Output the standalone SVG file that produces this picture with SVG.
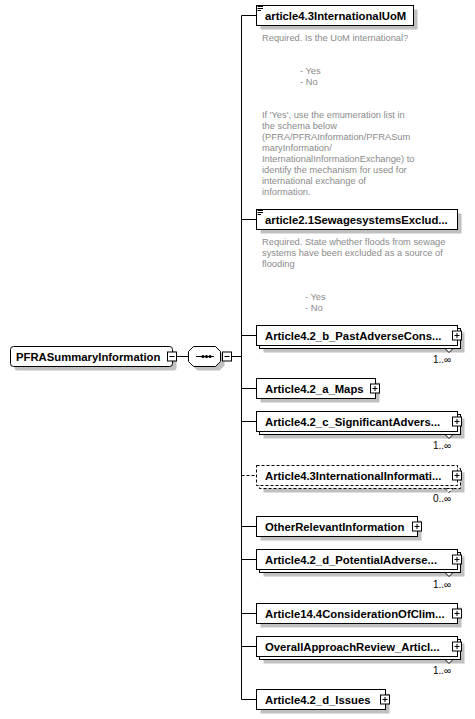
<svg xmlns="http://www.w3.org/2000/svg" width="475" height="719" viewBox="0 0 475 719">
<defs>
<style>
.box{fill:#fff;stroke:#000;stroke-width:1}
.dash{stroke-dasharray:3,2}
.shadow{fill:#c0c0c0;stroke:none}
.name{font-family:"Liberation Sans",Arial,sans-serif;font-weight:bold;font-size:11.3px;fill:#000}
.note{font-family:"Liberation Sans",Arial,sans-serif;font-size:9.3px;fill:#8a8a8a}
.occ{font-family:"Liberation Sans",Arial,sans-serif;font-size:10px;fill:#000}
.line{stroke:#000;stroke-width:1;fill:none}
.btn{fill:#fff;stroke:#000;stroke-width:1}
</style>
</defs>
<rect width="475" height="719" fill="#fff"/>

<g id="connectors">
<line class="line" x1="176.5" y1="356.5" x2="188.5" y2="356.5"/>
<line class="line" x1="220.5" y1="356.5" x2="241.5" y2="356.5"/>
<line class="line" x1="241.5" y1="15.5" x2="241.5" y2="699.5"/>
<line class="line" x1="241.5" y1="15.5" x2="256.5" y2="15.5"/>
<line class="line" x1="241.5" y1="219.5" x2="256.5" y2="219.5"/>
<line class="line" x1="241.5" y1="335.5" x2="256.5" y2="335.5"/>
<line class="line" x1="241.5" y1="388.5" x2="256.5" y2="388.5"/>
<line class="line" x1="241.5" y1="421.5" x2="256.5" y2="421.5"/>
<line class="line dash" x1="241.5" y1="475.5" x2="256.5" y2="475.5"/>
<line class="line" x1="241.5" y1="526.5" x2="256.5" y2="526.5"/>
<line class="line" x1="241.5" y1="559.5" x2="256.5" y2="559.5"/>
<line class="line" x1="241.5" y1="613.5" x2="256.5" y2="613.5"/>
<line class="line" x1="241.5" y1="646.5" x2="256.5" y2="646.5"/>
<line class="line" x1="241.5" y1="699.5" x2="256.5" y2="699.5"/>
</g>

<g id="PFRASummaryInformation">
<rect class="shadow" x="14.5" y="350.5" width="162" height="20" rx="3"/>
<rect class="box" x="10.5" y="346.5" width="162" height="20" rx="3"/>
<text class="name" x="16" y="361">PFRASummaryInformation</text>
<rect class="btn" x="167.5" y="352" width="9" height="9"/>
<line class="line" x1="169.5" y1="356.5" x2="174.5" y2="356.5"/>
</g>

<g id="sequence">
<polygon class="shadow" points="197.5,350.5 219.5,350.5 224.5,355.5 224.5,365.5 219.5,370.5 197.5,370.5 192.5,365.5 192.5,355.5"/>
<polygon class="box" points="193.5,346.5 215.5,346.5 220.5,351.5 220.5,361.5 215.5,366.5 193.5,366.5 188.5,361.5 188.5,351.5"/>
<line class="line" x1="196" y1="356.5" x2="214" y2="356.5"/>
<circle cx="203" cy="356.5" r="1.6" fill="#000"/>
<circle cx="206.5" cy="356.5" r="1.6" fill="#000"/>
<circle cx="210" cy="356.5" r="1.6" fill="#000"/>
<rect class="btn" x="222.5" y="352" width="9" height="9"/>
<line class="line" x1="224.5" y1="356.5" x2="229.5" y2="356.5"/>
</g>

<g id="article4.3InternationalUoM">
<rect class="shadow" x="260.5" y="9.5" width="157" height="20"/>
<rect class="box" x="256.5" y="5.5" width="157" height="20"/>
<line class="line" x1="257.5" y1="6.5" x2="263" y2="6.5"/>
<line class="line" x1="257.5" y1="8.5" x2="263" y2="8.5"/>
<line class="line" x1="257.5" y1="10.5" x2="261" y2="10.5"/>
<text class="name" x="265" y="20">article4.3InternationalUoM</text>
<text class="note" x="262" y="41">Required. Is the UoM international?</text>
<text class="note" x="300" y="74">- Yes</text>
<text class="note" x="300" y="85">- No</text>
<text class="note" x="262" y="118">If 'Yes', use the emumeration list in</text>
<text class="note" x="262" y="129">the schema below</text>
<text class="note" x="262" y="140">(PFRA/PFRAInformation/PFRASum</text>
<text class="note" x="262" y="151">maryInformation/</text>
<text class="note" x="262" y="162">InternationalInformationExchange) to</text>
<text class="note" x="262" y="173">identify the mechanism for used for</text>
<text class="note" x="262" y="184">international exchange of</text>
<text class="note" x="262" y="195">information.</text>
</g>

<g id="article2.1SewagesystemsExcluded">
<rect class="shadow" x="260.5" y="213.5" width="201" height="20"/>
<rect class="box" x="256.5" y="209.5" width="201" height="20"/>
<line class="line" x1="257.5" y1="210.5" x2="263" y2="210.5"/>
<line class="line" x1="257.5" y1="212.5" x2="263" y2="212.5"/>
<line class="line" x1="257.5" y1="214.5" x2="261" y2="214.5"/>
<text class="name" x="265" y="224">article2.1SewagesystemsExclud...</text>
<text class="note" x="262" y="245">Required. State whether floods from sewage</text>
<text class="note" x="262" y="256">systems have been excluded as a source of</text>
<text class="note" x="262" y="267">flooding</text>
<text class="note" x="305" y="300">- Yes</text>
<text class="note" x="305" y="311">- No</text>
</g>

<g id="Article4.2_b_PastAdverseConsequences">
<rect class="shadow" x="263.5" y="332.5" width="201" height="20"/>
<rect class="box" x="259.5" y="328.5" width="201" height="20"/>
<rect class="box" x="256.5" y="325.5" width="201" height="20"/>
<text class="name" x="265" y="340">Article4.2_b_PastAdverseCons...</text>
<rect class="btn" x="452.5" y="331" width="9" height="9"/>
<path class="line" d="M454.5,335.5h5M457,333v5"/>
<polygon class="box" points="445,348.5 449,352.5 453,348.5"/>
<text class="occ" x="433" y="363">1..∞</text>
</g>

<g id="Article4.2_a_Maps">
<rect class="shadow" x="260.5" y="382.5" width="119" height="20"/>
<rect class="box" x="256.5" y="378.5" width="119" height="20"/>
<text class="name" x="265" y="393">Article4.2_a_Maps</text>
<rect class="btn" x="370.5" y="384" width="9" height="9"/>
<path class="line" d="M372.5,388.5h5M375,386v5"/>
</g>

<g id="Article4.2_c_SignificantAdverseConsequences">
<rect class="shadow" x="263.5" y="418.5" width="201" height="20"/>
<rect class="box" x="259.5" y="414.5" width="201" height="20"/>
<rect class="box" x="256.5" y="411.5" width="201" height="20"/>
<text class="name" x="265" y="426">Article4.2_c_SignificantAdvers...</text>
<rect class="btn" x="452.5" y="417" width="9" height="9"/>
<path class="line" d="M454.5,421.5h5M457,419v5"/>
<polygon class="box" points="445,434.5 449,438.5 453,434.5"/>
<text class="occ" x="433" y="449">1..∞</text>
</g>

<g id="Article4.3InternationalInformationExchange">
<rect class="shadow" x="263.5" y="472.5" width="201" height="20"/>
<rect class="box dash" x="259.5" y="468.5" width="201" height="20"/>
<rect class="box dash" x="256.5" y="465.5" width="201" height="20"/>
<text class="name" x="265" y="480">Article4.3InternationalInformati...</text>
<rect class="btn" x="452.5" y="471" width="9" height="9"/>
<path class="line" d="M454.5,475.5h5M457,473v5"/>
<polygon class="box dash" points="445,488.5 449,492.5 453,488.5"/>
<text class="occ" x="433" y="502">0..∞</text>
</g>

<g id="OtherRelevantInformation">
<rect class="shadow" x="260.5" y="520.5" width="161" height="20"/>
<rect class="box" x="256.5" y="516.5" width="161" height="20"/>
<text class="name" x="265" y="531">OtherRelevantInformation</text>
<rect class="btn" x="412.5" y="522" width="9" height="9"/>
<path class="line" d="M414.5,526.5h5M417,524v5"/>
</g>

<g id="Article4.2_d_PotentialAdverseConsequences">
<rect class="shadow" x="263.5" y="556.5" width="201" height="20"/>
<rect class="box" x="259.5" y="552.5" width="201" height="20"/>
<rect class="box" x="256.5" y="549.5" width="201" height="20"/>
<text class="name" x="265" y="564">Article4.2_d_PotentialAdverse...</text>
<rect class="btn" x="452.5" y="555" width="9" height="9"/>
<path class="line" d="M454.5,559.5h5M457,557v5"/>
<polygon class="box" points="445,572.5 449,576.5 453,572.5"/>
<text class="occ" x="433" y="588">1..∞</text>
</g>

<g id="Article14.4ConsiderationOfClimateChange">
<rect class="shadow" x="260.5" y="607.5" width="201" height="20"/>
<rect class="box" x="256.5" y="603.5" width="201" height="20"/>
<text class="name" x="265" y="618">Article14.4ConsiderationOfClim...</text>
<rect class="btn" x="452.5" y="609" width="9" height="9"/>
<path class="line" d="M454.5,613.5h5M457,611v5"/>
</g>

<g id="OverallApproachReview_Article14">
<rect class="shadow" x="263.5" y="643.5" width="201" height="20"/>
<rect class="box" x="259.5" y="639.5" width="201" height="20"/>
<rect class="box" x="256.5" y="636.5" width="201" height="20"/>
<text class="name" x="265" y="651">OverallApproachReview_Articl...</text>
<rect class="btn" x="452.5" y="642" width="9" height="9"/>
<path class="line" d="M454.5,646.5h5M457,644v5"/>
<polygon class="box" points="445,659.5 449,663.5 453,659.5"/>
<text class="occ" x="433" y="674">1..∞</text>
</g>

<g id="Article4.2_d_Issues">
<rect class="shadow" x="260.5" y="693.5" width="129" height="20"/>
<rect class="box" x="256.5" y="689.5" width="129" height="20"/>
<text class="name" x="265" y="704">Article4.2_d_Issues</text>
<rect class="btn" x="380.5" y="695" width="9" height="9"/>
<path class="line" d="M382.5,699.5h5M385,697v5"/>
</g>
</svg>
